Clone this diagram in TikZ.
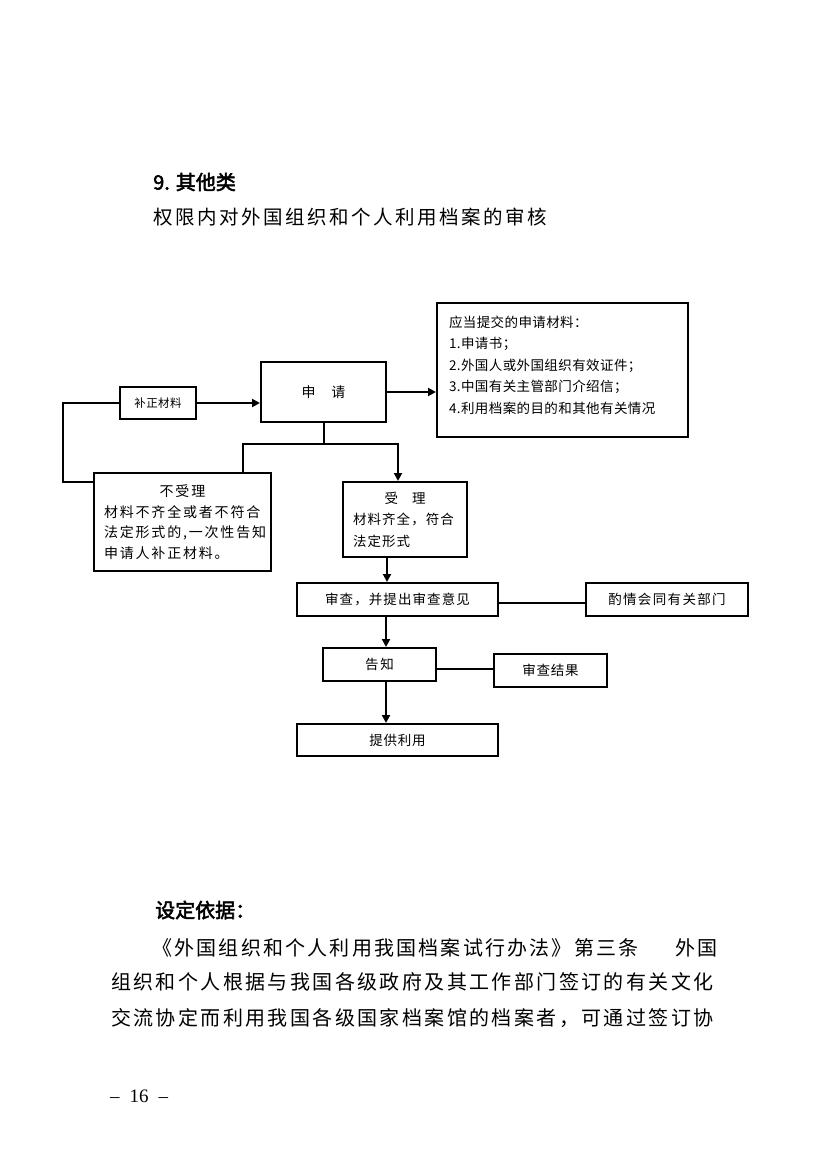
\documentclass[tikz,border=0pt]{standalone}
\usepackage{fontspec}
\usetikzlibrary{arrows.meta}
\newfontfamily\cjk{Noto Sans CJK SC}
\newfontfamily\cjkb{Noto Sans CJK SC}[FakeBold=2.5]
\newfontfamily\pgnum{Liberation Serif}
\newcommand\fs[2]{\fontsize{#1}{#2}\selectfont}
\newcommand\ls[1]{\addfontfeature{LetterSpace=#1}}
\tikzset{
  box/.style={draw, line width=2pt, inner sep=0pt},
  conn/.style={line width=2pt},
  arr/.style={conn, -{Triangle[length=8pt,width=8pt]}},
  txt/.style={inner sep=0pt},
}
\begin{document}
\begin{tikzpicture}[x=1pt,y=-1pt]
\fill[white] (0,0) rectangle (827,1169);
\useasboundingbox (0,0) rectangle (827,1169);

% headings
\node[txt, anchor=west, font={\cjkb\fs{20}{24}}] (h1) at (153,182) {9. 其他类};
\node[txt, anchor=west, font={\cjk\fs{19.5}{24}\ls{13}}] (h2) at (153,217) {权限内对外国组织和个人利用档案的审核};

% boxes
\node[box, minimum width=76pt, minimum height=32pt, font={\cjk\fs{11.5}{14}\ls{4}}] (nbz) at (158,403) {补正材料};
\node[box, minimum width=125pt, minimum height=60pt, font={\cjk\fs{14}{16}}] (nsq) at (323.5,392) {申\hspace{16pt}请};
\node[box, minimum width=251pt, minimum height=134pt, align=left, text width=227pt, font={\cjk\fs{13.5}{21.5}\ls{3}}] (nreq) at (562.5,370)
  {应当提交的申请材料：\\1.申请书；\\2.外国人或外国组织有效证件；\\3.中国有关主管部门介绍信；\\4.利用档案的目的和其他有关情况\\[-11pt]\mbox{}};
\node[box, minimum width=177pt, minimum height=98pt, align=left, text width=157pt, font={\cjk\fs{14}{20.7}\ls{13}}] (nbsl) at (182.5,522)
  {\makebox[157pt]{不受理}\\材料不齐全或者不符合\\法定形式的,一次性告知\\申请人补正材料。};
\node[box, minimum width=124pt, minimum height=75pt, align=left, text width=104pt, font={\cjk\fs{13.5}{21.5}\ls{8}}] (nsl) at (405,519.5)
  {\makebox[104pt]{受\hspace{14pt}理}\\材料齐全，符合\\法定形式};
\node[box, minimum width=201pt, minimum height=33pt, font={\cjk\fs{13.5}{16}\ls{8}}] (nsc) at (397.5,599.5) {审查，并提出审查意见};
\node[box, minimum width=162pt, minimum height=33pt, font={\cjk\fs{13.5}{16}\ls{10}}] (nzq) at (667,599.5) {酌情会同有关部门};
\node[box, minimum width=113pt, minimum height=33pt, font={\cjk\fs{13.5}{16}\ls{12}}] (ngz) at (379.5,664.5) {告知};
\node[box, minimum width=113pt, minimum height=33pt, font={\cjk\fs{13.5}{16}\ls{5}}] (njg) at (550.5,670.5) {审查结果};
\node[box, minimum width=201pt, minimum height=32pt, font={\cjk\fs{13.5}{16}\ls{6}}] (ntg) at (397.5,740) {提供利用};

% connectors
\coordinate (br) at (323.5,444);
\coordinate (brL) at (243,444);
\coordinate (brR) at (398,444);
\coordinate (fb) at (63,482);
\draw[arr] (nbz.east) -- (nbz.east -| nsq.west);
\draw[arr] (nsq.east) -- (nsq.east -| nreq.west);
\draw[conn] (nsq.south) -- (br);
\draw[arr] (brL |- nbsl.north) -- (brL) -- (brR) -- (brR |- nsl.north);
\draw[conn] (nbsl.west |- fb) -- (fb) -- (fb |- nbz.west) -- (nbz.west);
\draw[arr] ([xshift=-18pt]nsl.south) -- ([xshift=-18pt]nsl.south |- nsc.north);
\draw[arr] ([xshift=-11.5pt]nsc.south) -- ([xshift=-11.5pt]nsc.south |- ngz.north);
\draw[arr] ([xshift=6.5pt]ngz.south) -- ([xshift=6.5pt]ngz.south |- ntg.north);
\draw[conn] ([yshift=-3.5pt]nsc.east) -- ([yshift=-3.5pt]nsc.east -| nzq.west);
\draw[conn] ([yshift=-4.5pt]ngz.east) -- ([yshift=-4.5pt]ngz.east -| njg.west);

% basis text
\node[txt, anchor=west, font={\cjkb\fs{20}{24}}] (b0) at (155,910) {设定依据：};
\node[txt, anchor=west, font={\cjk\fs{20}{24}\ls{11}}] (b1) at (152,948) {《外国组织和个人利用我国档案试行办法》第三条};
\node[txt, anchor=west, font={\cjk\fs{20}{24}\ls{11}}] (b1b) at (675,948) {外国};
\node[txt, anchor=west, font={\cjk\fs{20}{24}\ls{12}}] (b2) at (111,982) {组织和个人根据与我国各级政府及其工作部门签订的有关文化};
\node[txt, anchor=west, font={\cjk\fs{20}{24}\ls{12}}] (b3) at (111,1018) {交流协定而利用我国各级国家档案馆的档案者，可通过签订协};

% page number
\node[txt, anchor=west, font={\pgnum\fs{19}{22}}] (pg) at (110,1096) {–\hspace{10pt}16\hspace{10pt}–};
\end{tikzpicture}
\end{document}
